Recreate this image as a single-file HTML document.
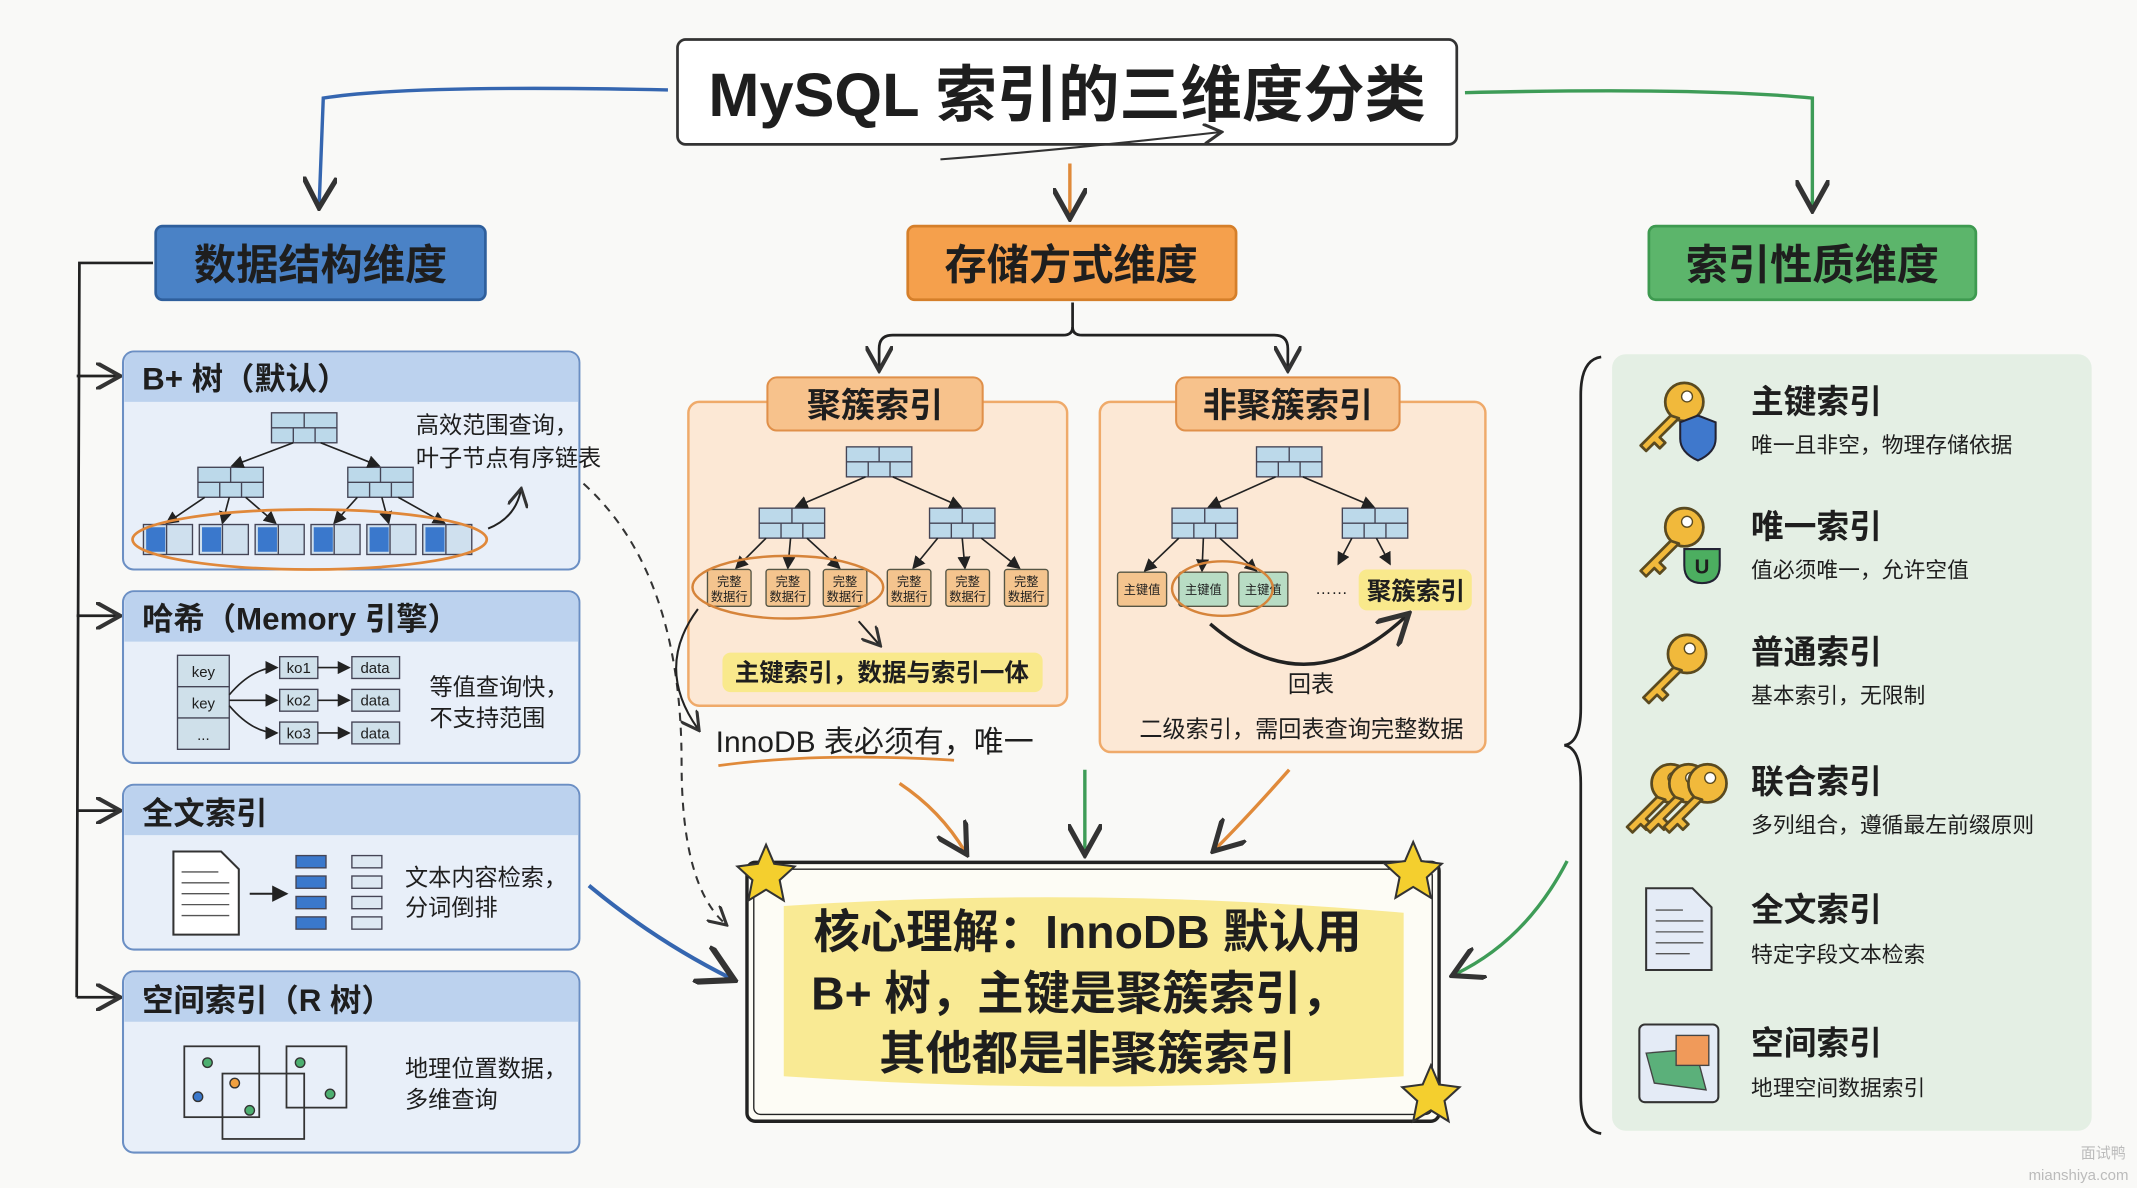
<!DOCTYPE html>
<html><head><meta charset="utf-8"><style>
html,body{margin:0;padding:0;background:#f9f9f7;}
svg{display:block;}
text{font-family:"Liberation Sans","Noto Sans CJK SC",sans-serif;fill:#1e1e1e;}
.b{font-weight:bold;}
</style></head><body>
<svg width="2137" height="1188" viewBox="0 0 1568 872" xmlns="http://www.w3.org/2000/svg">
<defs>
<marker id="ab" markerWidth="10" markerHeight="10" refX="8" refY="5" orient="auto"><path d="M0,0 L9,5 L0,10" fill="none" stroke="#333" stroke-width="1.5"/></marker>
<marker id="ak" markerWidth="8" markerHeight="8" refX="7" refY="4" orient="auto"><path d="M0,0 L8,4 L0,8 Z" fill="#222"/></marker>
<g id="node"><rect x="0" y="0" width="48" height="22" fill="#bcd9ea" stroke="#445" stroke-width="1"/><line x1="0" y1="11" x2="48" y2="11" stroke="#445"/><line x1="24" y1="0" x2="24" y2="11" stroke="#445"/><line x1="16" y1="11" x2="16" y2="22" stroke="#445"/><line x1="32" y1="11" x2="32" y2="22" stroke="#445"/></g>
<g id="leaf"><rect x="0" y="0" width="36" height="22" fill="#cfe0ee" stroke="#445"/><rect x="2" y="2" width="14" height="18" fill="#3a78cc"/><line x1="17" y1="0" x2="17" y2="22" stroke="#445"/></g>
<g id="key"><circle cx="26" cy="-10" r="14" fill="#f1b93b" stroke="#5a4a20" stroke-width="2"/><circle cx="28" cy="-14" r="4" fill="#fff" stroke="#5a4a20"/><path d="M16,0 L-6,22 L-2,26 L4,20 L8,24 L12,20 L8,16 L22,2 Z" fill="#f1b93b" stroke="#5a4a20" stroke-width="2" stroke-linejoin="round"/></g>
</defs>

<!-- title -->
<rect x="497" y="29" width="572" height="77" rx="6" fill="#fff" stroke="#333" stroke-width="2"/>
<text x="783" y="85" text-anchor="middle" font-size="45" class="b">MySQL 索引的三维度分类</text>
<path d="M690,117 Q780,110 895,97" fill="none" stroke="#333" stroke-width="1.5" marker-end="url(#ab)"/>

<!-- top arrows -->
<path d="M490,66 Q300,62 237,72 L234,150" fill="none" stroke="#3566b0" stroke-width="2.5" marker-end="url(#ab)"/>
<path d="M1075,68 Q1250,64 1330,72 L1330,152" fill="none" stroke="#3e9c57" stroke-width="2.5" marker-end="url(#ab)"/>
<path d="M785,120 L785,158" fill="none" stroke="#e08a3a" stroke-width="2.5" marker-end="url(#ab)"/>

<!-- headers -->
<rect x="114" y="166" width="242" height="54" rx="5" fill="#4a82c6" stroke="#2f5f9c" stroke-width="2"/>
<text x="235" y="205" text-anchor="middle" font-size="31" class="b">数据结构维度</text>
<rect x="666" y="166" width="241" height="54" rx="5" fill="#f5a04c" stroke="#d57f2a" stroke-width="2"/>
<text x="786" y="205" text-anchor="middle" font-size="31" class="b">存储方式维度</text>
<rect x="1210" y="166" width="240" height="54" rx="5" fill="#5cb56b" stroke="#3e9a50" stroke-width="2"/>
<text x="1330" y="205" text-anchor="middle" font-size="31" class="b">索引性质维度</text>

<!-- left bracket -->
<path d="M112,193 L58,193 L56,732" fill="none" stroke="#222" stroke-width="2"/>
<g stroke="#222" stroke-width="2" fill="none">
<path d="M56,276 L86,276" marker-end="url(#ab)"/><path d="M56,452 L86,452" marker-end="url(#ab)"/>
<path d="M56,595 L86,595" marker-end="url(#ab)"/><path d="M56,732 L86,732" marker-end="url(#ab)"/>
</g>

<!-- left panels -->
<g stroke="#6b8fc4" stroke-width="1.5">
<rect x="90" y="258" width="335" height="160" rx="8" fill="#e8eff9"/>
<rect x="90" y="434" width="335" height="126" rx="8" fill="#e8eff9"/>
<rect x="90" y="576" width="335" height="121" rx="8" fill="#e8eff9"/>
<rect x="90" y="713" width="335" height="133" rx="8" fill="#e8eff9"/>
</g>
<g fill="#bcd2ee">
<path d="M91,295 L91,266 Q91,259 98,259 L417,259 Q424,259 424,266 L424,295 Z"/>
<path d="M91,471 L91,442 Q91,435 98,435 L417,435 Q424,435 424,442 L424,471 Z"/>
<path d="M91,613 L91,584 Q91,577 98,577 L417,577 Q424,577 424,584 L424,613 Z"/>
<path d="M91,750 L91,721 Q91,714 98,714 L417,714 Q424,714 424,721 L424,750 Z"/>
</g>
<text x="104" y="286" font-size="23" class="b">B+ 树（默认）</text>
<text x="104" y="462" font-size="23" class="b">哈希（Memory 引擎）</text>
<text x="104" y="605" font-size="23" class="b">全文索引</text>
<text x="104" y="742" font-size="23" class="b">空间索引（R 树）</text>

<!-- B+ tree -->
<use href="#node" x="199" y="303"/><use href="#node" x="145" y="343"/><use href="#node" x="255" y="343"/>
<g stroke="#222" stroke-width="1.2" marker-end="url(#ak)">
<line x1="215" y1="325" x2="170" y2="342"/><line x1="235" y1="325" x2="278" y2="342"/>
<line x1="150" y1="365" x2="122" y2="384"/><line x1="168" y1="365" x2="163" y2="384"/><line x1="180" y1="365" x2="202" y2="384"/>
<line x1="262" y1="365" x2="245" y2="384"/><line x1="280" y1="365" x2="285" y2="384"/><line x1="292" y1="365" x2="326" y2="384"/>
</g>
<use href="#leaf" x="105" y="385"/><use href="#leaf" x="146" y="385"/><use href="#leaf" x="187" y="385"/><use href="#leaf" x="228" y="385"/><use href="#leaf" x="269" y="385"/><use href="#leaf" x="310" y="385"/>
<ellipse cx="227" cy="396" rx="130" ry="22" fill="none" stroke="#e0883a" stroke-width="2"/>
<path d="M358,388 Q378,380 382,360" fill="none" stroke="#222" stroke-width="1.5" marker-end="url(#ab)"/>
<text x="305" y="318" font-size="17">高效范围查询，</text>
<text x="305" y="342" font-size="17">叶子节点有序链表</text>
<path d="M428,355 Q500,420 500,560 Q500,650 532,678" fill="none" stroke="#333" stroke-width="1.5" stroke-dasharray="6,5" marker-end="url(#ab)"/>

<!-- hash -->
<g stroke="#445" fill="#cfe0ea"><rect x="130" y="481" width="38" height="69"/><line x1="130" y1="504" x2="168" y2="504"/><line x1="130" y1="527" x2="168" y2="527"/>
<rect x="205" y="482" width="28" height="16"/><rect x="205" y="506" width="28" height="16"/><rect x="205" y="530" width="28" height="16"/>
<rect x="258" y="482" width="35" height="16"/><rect x="258" y="506" width="35" height="16"/><rect x="258" y="530" width="35" height="16"/></g>
<g font-size="11" text-anchor="middle"><text x="149" y="497">key</text><text x="149" y="520">key</text><text x="149" y="543">...</text>
<text x="219" y="494">ko1</text><text x="219" y="518">ko2</text><text x="219" y="542">ko3</text>
<text x="275" y="494">data</text><text x="275" y="518">data</text><text x="275" y="542">data</text></g>
<g stroke="#222" stroke-width="1.2" fill="none" marker-end="url(#ak)"><path d="M168,510 Q185,490 203,490"/><line x1="168" y1="514" x2="203" y2="514"/><path d="M168,518 Q185,538 203,538"/>
<line x1="233" y1="490" x2="256" y2="490"/><line x1="233" y1="514" x2="256" y2="514"/><line x1="233" y1="538" x2="256" y2="538"/></g>
<text x="315" y="510" font-size="17">等值查询快，</text><text x="315" y="533" font-size="17">不支持范围</text>

<!-- fulltext -->
<path d="M127,625 L162,625 L175,638 L175,686 L127,686 Z" fill="#fff" stroke="#333" stroke-width="1.5"/>
<g stroke="#555"><line x1="133" y1="640" x2="160" y2="640"/><line x1="133" y1="648" x2="168" y2="648"/><line x1="133" y1="656" x2="168" y2="656"/><line x1="133" y1="664" x2="168" y2="664"/><line x1="133" y1="672" x2="168" y2="672"/></g>
<line x1="183" y1="656" x2="210" y2="656" stroke="#222" stroke-width="1.5" marker-end="url(#ak)"/>
<g stroke="#445"><rect x="217" y="628" width="22" height="9" fill="#3a78cc"/><rect x="217" y="643" width="22" height="9" fill="#3a78cc"/><rect x="217" y="658" width="22" height="9" fill="#3a78cc"/><rect x="217" y="673" width="22" height="9" fill="#3a78cc"/>
<rect x="258" y="628" width="22" height="9" fill="#dde8f2"/><rect x="258" y="643" width="22" height="9" fill="#dde8f2"/><rect x="258" y="658" width="22" height="9" fill="#dde8f2"/><rect x="258" y="673" width="22" height="9" fill="#dde8f2"/></g>
<text x="297" y="650" font-size="17">文本内容检索，</text><text x="297" y="672" font-size="17">分词倒排</text>

<!-- spatial -->
<g fill="none" stroke="#333" stroke-width="1.3"><rect x="135" y="768" width="55" height="52"/><rect x="163" y="788" width="60" height="48"/><rect x="210" y="768" width="44" height="45"/></g>
<g stroke="#333"><circle cx="152" cy="780" r="3.5" fill="#4caf70"/><circle cx="145" cy="805" r="3.5" fill="#3a78cc"/><circle cx="172" cy="795" r="3.5" fill="#f0a040"/><circle cx="183" cy="815" r="3.5" fill="#4caf70"/><circle cx="220" cy="780" r="3.5" fill="#4caf70"/><circle cx="242" cy="803" r="3.5" fill="#4caf70"/></g>
<text x="297" y="790" font-size="17">地理位置数据，</text><text x="297" y="813" font-size="17">多维查询</text>
<path d="M432,650 Q480,690 536,718" fill="none" stroke="#3566b0" stroke-width="3" marker-end="url(#ab)"/>

<!-- split arrow -->
<path d="M787,222 L787,240 Q787,246 780,246 L655,246 Q645,246 645,256 L645,270" fill="none" stroke="#222" stroke-width="2" marker-end="url(#ab)"/>
<path d="M787,240 Q787,246 794,246 L935,246 Q945,246 945,256 L945,270" fill="none" stroke="#222" stroke-width="2" marker-end="url(#ab)"/>

<!-- cluster box -->
<rect x="505" y="295" width="278" height="223" rx="8" fill="#fce8d5" stroke="#efaa6a" stroke-width="1.8"/>
<rect x="563" y="277" width="158" height="39" rx="7" fill="#f7c28c" stroke="#e0904a" stroke-width="1.5"/>
<text x="642" y="306" text-anchor="middle" font-size="25" class="b">聚簇索引</text>
<use href="#node" x="621" y="328"/><use href="#node" x="557" y="373"/><use href="#node" x="682" y="373"/>
<g stroke="#222" stroke-width="1.2" marker-end="url(#ak)">
<line x1="635" y1="350" x2="584" y2="372"/><line x1="655" y1="350" x2="705" y2="372"/>
<line x1="562" y1="395" x2="540" y2="417"/><line x1="580" y1="395" x2="578" y2="417"/><line x1="592" y1="395" x2="616" y2="417"/>
<line x1="688" y1="395" x2="670" y2="417"/><line x1="706" y1="395" x2="708" y2="417"/><line x1="720" y1="395" x2="748" y2="417"/>
</g>
<g fill="#f4c48e" stroke="#554">
<rect x="519" y="418" width="32" height="27" rx="2"/><rect x="562" y="418" width="32" height="27" rx="2"/><rect x="604" y="418" width="32" height="27" rx="2"/>
<rect x="651" y="418" width="32" height="27" rx="2"/><rect x="694" y="418" width="32" height="27" rx="2"/><rect x="737" y="418" width="32" height="27" rx="2"/></g>
<g font-size="9" text-anchor="middle">
<text x="535" y="430">完整</text><text x="535" y="441">数据行</text><text x="578" y="430">完整</text><text x="578" y="441">数据行</text><text x="620" y="430">完整</text><text x="620" y="441">数据行</text>
<text x="667" y="430">完整</text><text x="667" y="441">数据行</text><text x="710" y="430">完整</text><text x="710" y="441">数据行</text><text x="753" y="430">完整</text><text x="753" y="441">数据行</text></g>
<ellipse cx="578" cy="431" rx="70" ry="23" fill="none" stroke="#d6843a" stroke-width="1.8"/>
<path d="M630,456 L645,473" stroke="#222" stroke-width="1.5" marker-end="url(#ab)"/>
<rect x="530" y="479" width="235" height="29" rx="6" fill="#f9e98c"/>
<text x="647" y="500" text-anchor="middle" font-size="18" class="b">主键索引，数据与索引一体</text>
<path d="M512,447 Q480,490 512,535" fill="none" stroke="#222" stroke-width="1.5" marker-end="url(#ab)"/>
<text x="525" y="552" font-size="22">InnoDB 表必须有，唯一</text>
<path d="M527,562 Q600,552 700,558" fill="none" stroke="#e08a3a" stroke-width="2"/>

<!-- non-cluster box -->
<rect x="807" y="295" width="283" height="257" rx="8" fill="#fce8d5" stroke="#efaa6a" stroke-width="1.8"/>
<rect x="863" y="277" width="164" height="39" rx="7" fill="#f7c28c" stroke="#e0904a" stroke-width="1.5"/>
<text x="945" y="306" text-anchor="middle" font-size="25" class="b">非聚簇索引</text>
<use href="#node" x="922" y="328"/><use href="#node" x="860" y="373"/><use href="#node" x="985" y="373"/>
<g stroke="#222" stroke-width="1.2" marker-end="url(#ak)">
<line x1="936" y1="350" x2="887" y2="372"/><line x1="956" y1="350" x2="1008" y2="372"/>
<line x1="865" y1="395" x2="840" y2="419"/><line x1="883" y1="395" x2="882" y2="419"/><line x1="895" y1="395" x2="922" y2="419"/>
<line x1="992" y1="395" x2="982" y2="414"/><line x1="1010" y1="395" x2="1020" y2="414"/></g>
<rect x="820" y="420" width="36" height="25" rx="2" fill="#f4c48e" stroke="#554"/>
<rect x="865" y="420" width="36" height="25" rx="2" fill="#b8dcc4" stroke="#554"/>
<rect x="909" y="420" width="36" height="25" rx="2" fill="#b8dcc4" stroke="#554"/>
<g font-size="9" text-anchor="middle"><text x="838" y="436">主键值</text><text x="883" y="436">主键值</text><text x="927" y="436">主键值</text></g>
<ellipse cx="897" cy="432" rx="37" ry="20" fill="none" stroke="#d6843a" stroke-width="1.8"/>
<text x="965" y="436" font-size="12">……</text>
<rect x="997" y="418" width="83" height="30" rx="6" fill="#f9e98c"/>
<text x="1039" y="440" text-anchor="middle" font-size="18" class="b">聚簇索引</text>
<path d="M888,458 Q960,520 1032,452" fill="none" stroke="#222" stroke-width="2.5" marker-end="url(#ab)"/>
<text x="962" y="508" text-anchor="middle" font-size="17">回表</text>
<text x="955" y="541" text-anchor="middle" font-size="17">二级索引，需回表查询完整数据</text>

<!-- arrows to core -->
<path d="M660,575 Q690,595 708,625" fill="none" stroke="#e08a3a" stroke-width="2.5" marker-end="url(#ab)"/>
<path d="M796,565 L796,625" fill="none" stroke="#3e9c57" stroke-width="2.5" marker-end="url(#ab)"/>
<path d="M946,565 Q915,600 892,623" fill="none" stroke="#e08a3a" stroke-width="2.5" marker-end="url(#ab)"/>
<path d="M1150,632 Q1120,690 1068,715" fill="none" stroke="#3e9c57" stroke-width="2.5" marker-end="url(#ab)"/>

<!-- core box -->
<rect x="548" y="633" width="508" height="190" rx="6" fill="#fdfcf5" stroke="#222" stroke-width="2.5"/>
<rect x="553" y="638" width="498" height="180" rx="5" fill="none" stroke="#222" stroke-width="1"/>
<path d="M575,665 Q800,650 1030,670 L1030,790 Q800,805 575,790 Z" fill="#f8e889" opacity="0.9"/>
<text x="798" y="696" text-anchor="middle" font-size="34" class="b">核心理解：InnoDB 默认用</text>
<text x="792" y="741" text-anchor="middle" font-size="34" class="b">B+ 树，主键是聚簇索引，</text>
<text x="798" y="785" text-anchor="middle" font-size="34" class="b">其他都是非聚簇索引</text>
<g fill="#f4cf2e" stroke="#333" stroke-width="1.5">
<path d="M562,620 L568,634 L583,636 L572,646 L575,661 L562,653 L549,661 L552,646 L541,636 L556,634 Z"/>
<path d="M1037,618 L1043,632 L1058,634 L1047,644 L1050,659 L1037,651 L1024,659 L1027,644 L1016,634 L1031,632 Z"/>
<path d="M1050,782 L1056,796 L1071,798 L1060,808 L1063,823 L1050,815 L1037,823 L1040,808 L1029,798 L1044,796 Z"/>
</g>

<!-- right brace -->
<path d="M1175,262 Q1160,264 1160,290 L1160,520 Q1160,545 1148,547 Q1160,549 1160,575 L1160,805 Q1160,830 1175,832" fill="none" stroke="#222" stroke-width="2"/>

<!-- right panel -->
<rect x="1183" y="260" width="352" height="570" rx="10" fill="#e4efe4"/>
<g font-size="24" class="b"><text x="1285" y="303" class="b">主键索引</text><text x="1285" y="395" class="b">唯一索引</text><text x="1285" y="487" class="b">普通索引</text><text x="1285" y="582" class="b">联合索引</text><text x="1285" y="676" class="b">全文索引</text><text x="1285" y="774" class="b">空间索引</text></g>
<g font-size="16"><text x="1285" y="332">唯一且非空，物理存储依据</text><text x="1285" y="424">值必须唯一，允许空值</text><text x="1285" y="516">基本索引，无限制</text><text x="1285" y="611">多列组合，遵循最左前缀原则</text><text x="1285" y="706">特定字段文本检索</text><text x="1285" y="804">地理空间数据索引</text></g>
<use href="#key" x="1210" y="305"/>
<path d="M1233,310 L1246,305 L1259,310 L1259,322 Q1259,332 1246,338 Q1233,332 1233,322 Z" fill="#3f78cc" stroke="#223" stroke-width="1.5"/>
<use href="#key" x="1210" y="397"/>
<path d="M1236,403 L1262,403 L1262,415 Q1262,428 1249,428 Q1236,428 1236,415 Z" fill="#4cae60" stroke="#223" stroke-width="1.5"/>
<text x="1249" y="421" font-size="15" text-anchor="middle" class="b">U</text>
<use href="#key" x="1212" y="490"/>
<use href="#key" x="1200" y="585"/><use href="#key" x="1213" y="585"/><use href="#key" x="1227" y="585"/>
<path d="M1208,652 L1242,652 L1256,666 L1256,712 L1208,712 Z" fill="#e4ebf6" stroke="#333" stroke-width="1.5"/>
<g stroke="#555"><line x1="1215" y1="668" x2="1235" y2="668"/><line x1="1215" y1="676" x2="1250" y2="676"/><line x1="1215" y1="684" x2="1250" y2="684"/><line x1="1215" y1="692" x2="1250" y2="692"/><line x1="1215" y1="700" x2="1240" y2="700"/></g>
<rect x="1203" y="752" width="58" height="57" rx="4" fill="#e4ebf6" stroke="#333" stroke-width="1.5"/>
<path d="M1208,773 L1244,770 L1252,800 L1214,795 Z" fill="#5bb07a" stroke="#444"/>
<rect x="1230" y="760" width="24" height="22" fill="#f09a5a" stroke="#444"/>

<text x="1560" y="850" font-size="11" text-anchor="end" fill="#aaa" style="fill:#bbb">面试鸭</text>
<text x="1562" y="866" font-size="11" text-anchor="end" style="fill:#bbb">mianshiya.com</text>
</svg>
</body></html>
